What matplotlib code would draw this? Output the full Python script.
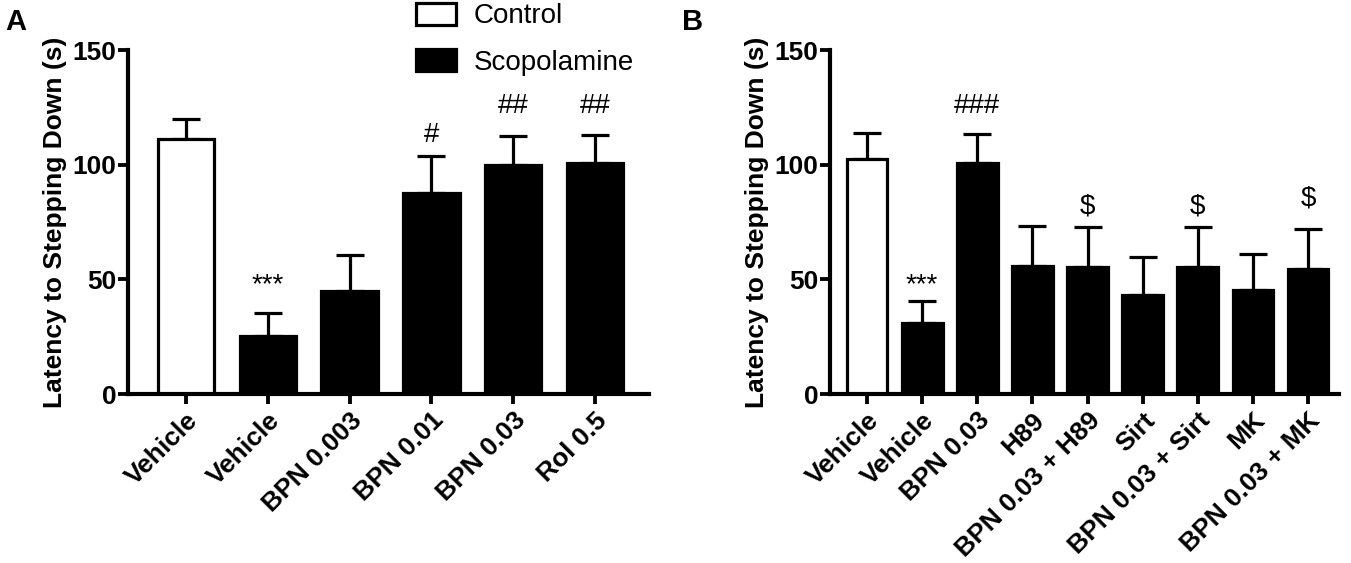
import matplotlib
matplotlib.use("Agg")
import matplotlib.pyplot as plt
from matplotlib.patches import Patch
import numpy as np

plt.rcParams['font.family'] = ['Liberation Sans', 'DejaVu Sans']

# panel A
labels_a = ['Vehicle', 'Vehicle', 'BPN 0.003', 'BPN 0.01', 'BPN 0.03', 'Rol 0.5']
means_a = [111.4, 25.4, 45.0, 87.6, 99.7, 100.9]
sem_a = [8.4, 10.1, 15.8, 16.2, 13.0, 12.1]
groups_a = ['Control', 'Scopolamine', 'Scopolamine', 'Scopolamine', 'Scopolamine', 'Scopolamine']
marks_a = ['', '***', '', '#', '##', '##']
marks_a_y = [0, 44.5, 0, 110.0, 122.4, 122.4]

# panel B
labels_b = ['Vehicle', 'Vehicle', 'BPN 0.03', 'H89', 'BPN 0.03 + H89', 'Sirt',
            'BPN 0.03 + Sirt', 'MK', 'BPN 0.03 + MK']
means_b = [102.4, 30.8, 100.9, 56.0, 55.5, 43.2, 55.5, 45.4, 54.5]
sem_b = [11.6, 9.8, 12.5, 17.1, 17.3, 16.4, 17.3, 15.6, 17.5]
groups_b = ['Control'] + ['Scopolamine'] * 8
marks_b = ['', '***', '###', '', '$', '', '$', '', '$']
marks_b_y = [0, 44.6, 122.4, 0, 78.8, 0, 78.8, 0, 82.4]

colors = {'Control': 'white', 'Scopolamine': 'black'}
LW = 2.3


def draw_panel(ax, labels, means, sem, groups, marks, marks_y, width, xmax, xmin):
    x = np.arange(len(labels))
    fc = [colors[g] for g in groups]
    ax.bar(x, means, width=width, color=fc, edgecolor='black', linewidth=LW, zorder=2)
    ax.errorbar(x, means, yerr=[np.zeros(len(sem)), sem], fmt='none', ecolor='black',
                elinewidth=LW, capsize=10, capthick=LW, zorder=1)
    for xi, m, my in zip(x, marks, marks_y):
        if m:
            ax.text(xi, my, m, ha='center', va='baseline', fontsize=20)
    ax.set_xlim(xmin, xmax)
    ax.set_ylim(0, 150)
    ax.set_yticks([0, 50, 100, 150])
    ax.set_xticks(x)
    ax.set_xticklabels(labels, rotation=45, ha='right', rotation_mode='anchor',
                       fontsize=19, fontweight='bold')
    for t in ax.get_yticklabels():
        t.set_fontweight('bold')
        t.set_fontsize(19)
    ax.tick_params(axis='both', direction='out', length=7.5, width=LW * 1.2, pad=1)
    ax.tick_params(axis='x', pad=2.5)
    ax.spines['top'].set_visible(False)
    ax.spines['right'].set_visible(False)
    ax.spines['left'].set_linewidth(LW * 1.3)
    ax.spines['bottom'].set_linewidth(LW * 1.3)
    ax.set_ylabel('Latency to Stepping Down (s)', fontsize=19, fontweight='bold', labelpad=4)


fig = plt.figure(figsize=(13.51, 5.63), dpi=100)
ax1 = fig.add_axes([0.0947, 0.300, 0.3857, 0.611])
ax2 = fig.add_axes([0.6144, 0.300, 0.3767, 0.611])

draw_panel(ax1, labels_a, means_a, sem_a, groups_a, marks_a, marks_a_y, 0.69, 5.66, -0.71)
draw_panel(ax2, labels_b, means_b, sem_b, groups_b, marks_b, marks_b_y, 0.74, 8.56, -0.67)

handles = [Patch(facecolor='white', edgecolor='black', linewidth=LW, label='Control'),
           Patch(facecolor='black', edgecolor='black', linewidth=LW, label='Scopolamine')]
fig.legend(handles=handles, loc='upper left', bbox_to_anchor=(0.3057, 1.0), frameon=False,
           fontsize=20, handlelength=1.45, handleheight=0.85, handletextpad=0.65,
           labelspacing=0.7, borderpad=0.1, borderaxespad=0)

fig.text(0.004, 0.985, 'A', fontsize=21, fontweight='bold', va='top')
fig.text(0.505, 0.985, 'B', fontsize=21, fontweight='bold', va='top')

fig.savefig('out.png', dpi=100)
